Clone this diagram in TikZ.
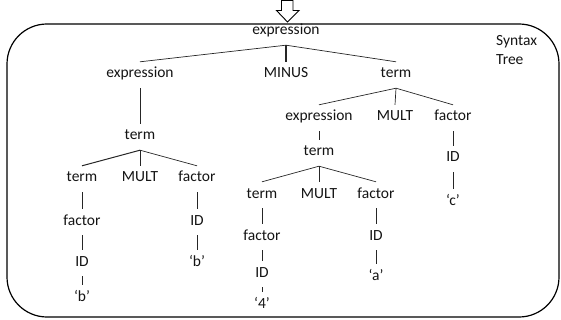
\documentclass[tikz,border=0pt]{standalone}
\usepackage{fontspec}
\setmainfont{Carlito}
\begin{document}
\begin{tikzpicture}[x=1pt,y=-1pt,
  sym/.style={font=\fontsize{15.5}{18}\selectfont, text=black!92,
    inner xsep=0pt, inner ysep=6pt, text height=10pt, text depth=4pt},
  edge/.style={draw=black!85, line width=0.7pt},
  frame/.style={draw=black, line width=1.2pt, rounded corners=40pt}]
\useasboundingbox (0,0) rectangle (561,320);

% enclosing frame and the hollow input arrow
\draw[frame] (7,24) rectangle (559,317);
\draw[black, line width=0.9pt, fill=white]
  (281.5,0.5) -- (293,0.5) -- (293,10.5) -- (299,10.5) -- (287.5,22)
  -- (276.5,10.5) -- (281.5,10.5) -- cycle;

% caption
\node[sym, anchor=west] (cap1) at (496,43) {Syntax};
\node[sym, anchor=west] (cap2) at (496,62) {Tree};

% tree nodes
\node[sym] (r)    at (286,32)  {expression};
\node[sym] (e1)   at (140,75)  {expression};
\node[sym] (mi)   at (286,75)  {MINUS};
\node[sym] (t1)   at (396,75)  {term};
\node[sym] (t2)   at (140,137) {term};
\node[sym] (t3)   at (82,179)  {term};
\node[sym] (m1)   at (140,179) {MULT};
\node[sym] (f1)   at (197,179) {factor};
\node[sym] (f2)   at (82,222)  {factor};
\node[sym] (id1)  at (82,263)  {ID};
\node[sym] (b1)   at (82,298)  {‘b’};
\node[sym] (id2)  at (197,222) {ID};
\node[sym] (b2)   at (197,263) {‘b’};
\node[sym] (e2)   at (319,118) {expression};
\node[sym] (m2)   at (395,118) {MULT};
\node[sym] (f3)   at (453,118) {factor};
\node[sym] (t4)   at (319,153) {term};
\node[sym] (id3)  at (453,159) {ID};
\node[sym] (c)    at (453,202) {‘c’};
\node[sym] (t5)   at (262,195) {term};
\node[sym] (m3)   at (319,195) {MULT};
\node[sym] (f4)   at (376,195) {factor};
\node[sym] (f5)   at (262,237) {factor};
\node[sym] (id4)  at (262,274) {ID};
\node[sym] (q4)   at (262,305) {‘4’};
\node[sym] (id5)  at (376,237) {ID};
\node[sym] (a)    at (376,277) {‘a’};

% tree edges
\draw[edge] (r.south) -- (e1.north);
\draw[edge, line width=1.3pt] (r.south) -- (mi.north);
\draw[edge] (r.south) -- (t1.north);
\draw[edge] (e1.south) -- (t2.north);
\draw[edge, line width=1pt] (t2.south) -- (t3.north);
\draw[edge] (t2.south) -- (m1.north);
\draw[edge] (t2.south) -- (f1.north);
\draw[edge] (t3.south) -- (f2.north);
\draw[edge] (f2.south) -- (id1.north);
\draw[edge] (id1.south) -- (b1.north);
\draw[edge] (f1.south) -- (id2.north);
\draw[edge] (id2.south) -- (b2.north);
\draw[edge] (t1.south) -- (e2.north);
\draw[edge] (t1.south) -- (m2.north);
\draw[edge] (t1.south) -- (f3.north);
\draw[edge] (e2.south) -- (t4.north);
\draw[edge] (f3.south) -- (id3.north);
\draw[edge] (id3.south) -- (c.north);
\draw[edge] (t4.south) -- (t5.north);
\draw[edge] (t4.south) -- (m3.north);
\draw[edge] (t4.south) -- (f4.north);
\draw[edge] (t5.south) -- (f5.north);
\draw[edge] (f5.south) -- (id4.north);
\draw[edge] (id4.south) -- (q4.north);
\draw[edge] (f4.south) -- (id5.north);
\draw[edge] (id5.south) -- (a.north);
\end{tikzpicture}
\end{document}
